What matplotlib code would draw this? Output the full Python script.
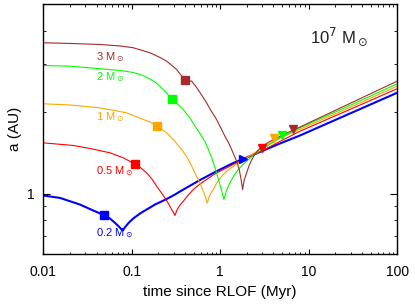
import matplotlib
matplotlib.use('Agg')
import matplotlib.pyplot as plt

# dados (tempo em Myr, a em AU)
t_3 = [0.01, 0.02003, 0.0437, 0.0736, 0.104, 0.1607, 0.2083, 0.248, 0.3214, 0.399, 0.475,
       0.5313, 0.590, 0.701, 0.785, 0.910, 1.018, 1.130, 1.238, 1.346, 1.447, 1.556, 1.648,
       1.722, 1.791, 1.862, 1.987, 2.110, 2.263, 2.434, 2.632, 2.884, 3.20, 3.644, 4.727,
       6.68, 7.96, 29.24, 100]
a_3 = [3.607, 3.586, 3.555, 3.511, 3.457, 3.313, 3.184, 3.085, 2.875, 2.626, 2.603,
       2.489, 2.365, 2.167, 2.030, 1.880, 1.749, 1.632, 1.546, 1.457, 1.379, 1.305, 1.219,
       1.129, 1.037, 1.120, 1.195, 1.266, 1.332, 1.390, 1.439, 1.482, 1.520, 1.560, 1.628,
       1.720, 1.764, 2.154, 2.603]

t_2 = [0.01, 0.02003, 0.0437, 0.0736, 0.104, 0.1338, 0.1607, 0.1926, 0.227, 0.2825, 0.3241,
       0.382, 0.4546, 0.541, 0.605, 0.671, 0.7358, 0.805, 0.871, 0.942, 1.018, 1.101, 1.160,
       1.222, 1.288, 1.428, 1.597, 1.781, 1.987, 2.252, 2.578, 3.20, 4.94, 7.96, 29.24, 100]
a_2 = [2.974, 2.957, 2.893, 2.851, 2.803, 2.733, 2.652, 2.553, 2.426, 2.242, 2.154,
       2.047, 1.904, 1.742, 1.648, 1.560, 1.457, 1.350, 1.250, 1.148, 1.050, 0.953, 1.011,
       1.059, 1.098, 1.168, 1.229, 1.277, 1.319, 1.369, 1.414, 1.482, 1.621, 1.752, 2.118, 2.546]

t_1 = [0.01, 0.02003, 0.0437, 0.0875, 0.135, 0.1607, 0.194, 0.2194, 0.248, 0.294, 0.3664,
       0.417, 0.4727, 0.541, 0.590, 0.632, 0.671, 0.713, 0.745, 0.785, 0.834, 0.918, 1.037,
       1.190, 1.403, 1.670, 1.987, 2.342, 2.81, 4.07, 7.96, 29.24, 100]
a_1 = [2.148, 2.127, 2.076, 1.990, 1.880, 1.841, 1.776, 1.727, 1.680, 1.586, 1.457,
       1.373, 1.272, 1.158, 1.096, 1.037, 0.986, 0.926, 0.969, 1.007, 1.037, 1.101, 1.161,
       1.214, 1.264, 1.316, 1.358, 1.405, 1.457, 1.573, 1.730, 2.083, 2.495]

t_05 = [0.01, 0.0218, 0.0337, 0.0567, 0.0802, 0.1086, 0.1271, 0.147, 0.1691, 0.191, 0.2137,
        0.237, 0.2599, 0.2825, 0.296, 0.3076, 0.3241, 0.3504, 0.382, 0.4315, 0.4955, 0.590,
        0.701, 0.827, 0.993, 1.403, 2.166, 2.94, 4.727, 7.96, 29.24, 100]
a_05 = [1.542, 1.508, 1.470, 1.417, 1.358, 1.288, 1.245, 1.195, 1.134, 1.067, 1.015,
        0.966, 0.921, 0.875, 0.853, 0.832, 0.871, 0.909, 0.939, 0.986, 1.037, 1.087,
        1.129, 1.173, 1.212, 1.283, 1.376, 1.439, 1.560, 1.702, 2.047, 2.441]

t_02 = [0.01, 0.01545, 0.0260, 0.0367, 0.0489, 0.0567, 0.0646, 0.0717, 0.0789, 0.0849, 0.0930,
        0.104, 0.1238, 0.147, 0.1829, 0.248, 0.3076, 0.382, 0.590, 0.910, 1.403, 1.818,
        2.81, 4.727, 7.96, 29.24, 100]
a_02 = [0.986, 0.966, 0.913, 0.868, 0.834, 0.811, 0.782, 0.757, 0.732, 0.757, 0.784,
        0.811, 0.846, 0.875, 0.913, 0.957, 0.994, 1.037, 1.124, 1.212, 1.299, 1.344,
        1.427, 1.533, 1.641, 1.978, 2.359]

# quadrados (inicio da transferencia) e triangulos
quad_t = [0.0489, 0.1086, 0.194, 0.2825, 0.399]
quad_a = [0.834, 1.288, 1.776, 2.242, 2.626]
tri_t = [1.818, 2.94, 4.07, 4.94, 6.68]
tri_a = [1.344, 1.48, 1.606, 1.654, 1.734]

rotulos = ['0.2 M$_\\odot$', '0.5 M$_\\odot$', '1 M$_\\odot$', '2 M$_\\odot$', '3 M$_\\odot$']
xticks = [0.01, 0.1, 1, 10, 100]
xtick_labels = ['0.01', '0.1', '1', '10', '100']
yticks = [1]
ytick_labels = ['1']
yminor = [0.7, 0.8, 0.9, 2, 3, 4]

plt.rcParams['font.family'] = ['Liberation Sans', 'DejaVu Sans']

fig = plt.figure(figsize=(4.15, 3.07), dpi=100)
ax = fig.add_axes([0.1043, 0.1726, 0.8527, 0.8134])

curvas = [(t_02, a_02), (t_05, a_05), (t_1, a_1), (t_2, a_2), (t_3, a_3)]
cores = ['#0000ff', '#ff0000', '#ffa500', '#00ff00', '#a52a2a']
larguras = [1.5, 0.8, 0.8, 0.8, 0.8]
label_y = [0.083, 0.333, 0.547, 0.708, 0.789]

for i, (t, a) in enumerate(curvas):
    ax.plot(t, a, color=cores[i], lw=larguras[i], zorder=2)
    ax.plot(quad_t[i], quad_a[i], 's', color=cores[i], ms=6, mec=cores[i], zorder=3)
    marcador = '>' if i == 0 else 'v'
    ax.plot(tri_t[i], tri_a[i], marcador, color=cores[i], ms=5.5, zorder=3)
    ax.text(0.150, label_y[i], rotulos[i], color=cores[i], fontsize=8,
            transform=ax.transAxes, ha='left', va='center')

ax.text(0.753, 0.844, '10$^7$ M$_\\odot$', fontsize=12, transform=ax.transAxes,
        ha='left', va='baseline', color='#222222')

ax.set_xscale('log')
ax.set_yscale('log')
ax.set_xlim(0.01, 100)
ax.set_ylim(0.6, 5.0)

ax.set_xticks(xticks)
ax.set_xticklabels(xtick_labels)
ax.set_yticks(yticks)
ax.set_yticklabels(ytick_labels)
ax.set_yticks(yminor, minor=True)
ax.set_yticklabels([], minor=True)

ax.tick_params(which='both', direction='in', top=True, right=True, labelsize=10)
ax.tick_params(axis='x', which='major', length=3.6, pad=8)
ax.tick_params(axis='x', which='minor', length=1.8)
ax.tick_params(axis='y', which='major', length=5, pad=6)
ax.tick_params(axis='y', which='minor', length=2.5)

for s in ax.spines.values():
    s.set_linewidth(1.0)

ax.set_xlabel('time since RLOF (Myr)', fontsize=11, labelpad=4)
ax.set_ylabel('a (AU)', fontsize=11, labelpad=4)

fig.savefig('out.png', dpi=100)
